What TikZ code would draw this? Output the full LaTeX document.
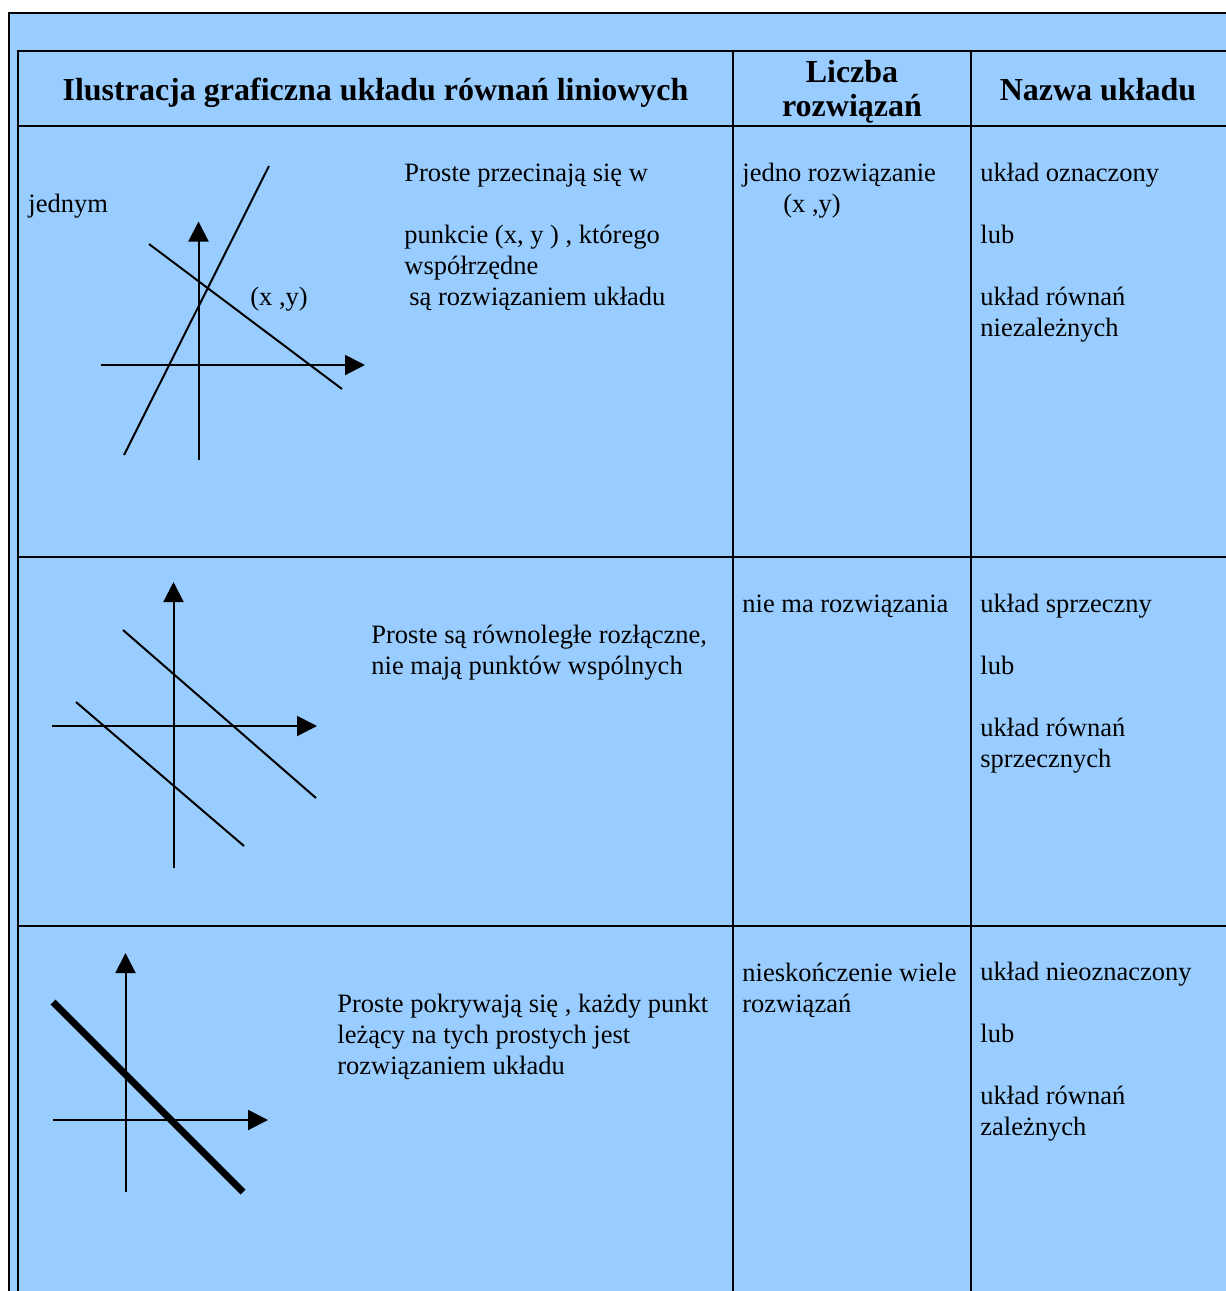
\documentclass[tikz,border=0pt]{standalone}
\usepackage{fontspec}
\setmainfont{Liberation Serif}
\usetikzlibrary{arrows.meta}
\definecolor{cellblue}{HTML}{99CCFF}

\begin{document}
\begin{tikzpicture}[x=0.5pt,y=-0.5pt]

%\axes{xleft}{xtip}{yaxis at x}{xaxis at y}{ytip}{ybottom}
\newcommand*{\axes}[6]{%
	\draw [axis] (#1,#4) -- (#2,#4);
	\draw [axis] (#3,#6) -- (#3,#5);
}

\tikzset{%
    axis/.style={-{Triangle[length=10pt,width=10pt]},line width=1pt},
    prosta/.style={line width=1pt},
    ramka/.style={line width=1pt},
    txt/.style={anchor=base west,inner sep=0pt,align=left,font=\fontsize{13.25}{15.5}\selectfont},
    head/.style={anchor=base,inner sep=0pt,align=center,font=\fontsize{16}{17}\selectfont\bfseries},
}

\def\colA{733}
\def\colB{971}
\def\rowH{126}
\def\rowA{557}
\def\rowB{926}

\useasboundingbox (0,0) rectangle (1226,1291);
\clip (0,0) rectangle (1226,1291);

% background and frame
\fill [cellblue] (9,13) rectangle (1240,1300);
\draw [line width=1.25pt] (9,1300) -- (9,13) -- (1240,13);
\draw [ramka] (18,1300) -- (18,51) -- (1240,51);
\draw [ramka] (18,\rowH) -- (1240,\rowH);
\draw [ramka] (18,\rowA) -- (1240,\rowA);
\draw [ramka] (18,\rowB) -- (1240,\rowB);
\draw [ramka] (\colA,51) -- (\colA,1300);
\draw [ramka] (\colB,51) -- (\colB,1300);

% header (base = last line)
\node [head] (ilustracja) at (375.5,100) {Ilustracja graficzna układu równań liniowych};
\node [head] (liczba) at (852,116) {Liczba\\rozwiązań};
\node [head] (nazwa) at (1098,100) {Nazwa układu};

% row 1: one solution
\axes{101}{365}{198.5}{365}{221.5}{460}
\draw [prosta] (124,455) -- (269,166);
\draw [prosta] (149,244) -- (342,389);
\node [txt] (jednym) at (28,212) {jednym};
\node [txt] (punkt) at (250,305) {(x ,y)};
\node [txt] (opisA) at (404,305) {Proste przecinają się w\\[15.5pt]punkcie (x, y ) , którego\\współrzędne\\\hspace*{2.5pt}są rozwiązaniem układu};
\node [txt] (liczbaA) at (742,212) {jedno rozwiązanie\\\hspace*{20.5pt}(x ,y)};
\node [txt] (nazwaA) at (980,336) {układ oznaczony\\[15.5pt]lub\\[15.5pt]układ równań\\niezależnych};

% row 2: no solution
\axes{52}{317}{173.5}{726}{582}{868}
\draw [prosta] (123,630) -- (316,798);
\draw [prosta] (76,702) -- (244,846);
\node [txt] (opisB) at (371,674) {Proste są równoległe rozłączne,\\nie mają punktów wspólnych};
\node [txt] (liczbaB) at (742,612) {nie ma rozwiązania};
\node [txt] (nazwaB) at (980,767) {układ sprzeczny\\[15.5pt]lub\\[15.5pt]układ równań\\sprzecznych};

% row 3: infinitely many solutions
\axes{53}{268}{125.5}{1120}{953}{1192}
\draw [line width=3.5pt] (53,1002) -- (243,1192);
\node [txt] (opisC) at (337,1074) {Proste pokrywają się , każdy punkt\\leżący na tych prostych jest\\rozwiązaniem układu};
\node [txt] (liczbaC) at (742,1012) {nieskończenie wiele\\rozwiązań};
\node [txt] (nazwaC) at (980,1135) {układ nieoznaczony\\[15.5pt]lub\\[15.5pt]układ równań\\zależnych};

\end{tikzpicture}
\end{document}
